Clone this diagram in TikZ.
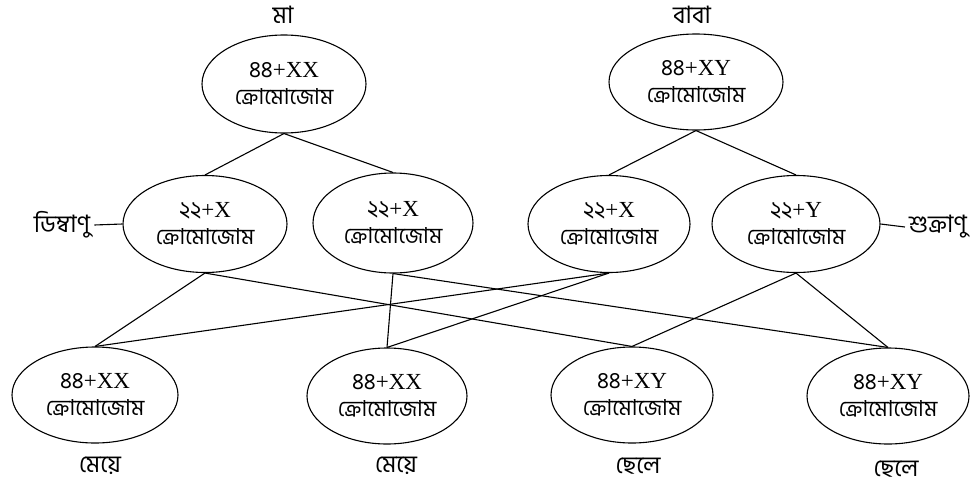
\documentclass[tikz,border=0pt]{standalone}
\usepackage{fontspec}
\setmainfont{Liberation Serif}
\newfontfamily\bn[Script=Bengali]{Hind Siliguri}
\usetikzlibrary{shapes.geometric}
\tikzset{
  cell/.style={draw, ellipse, line width=1.1pt, inner sep=0pt, align=center, font=\fontsize{23}{26}\selectfont},
  conn/.style={line width=1.1pt},
  lbl/.style={font=\bn\fontsize{24}{26}\selectfont, inner sep=4pt},
}
\newcommand{\chromo}{{\bn\fontsize{22}{24}\selectfont ক্রোমোজোম}}
\newcommand{\cellrows}[1]{\raisebox{-3pt}{#1}\\[1pt]\raisebox{-3pt}{\chromo}}
\begin{document}
\begin{tikzpicture}[x=1pt,y=-1pt]
\useasboundingbox (0,0) rectangle (976,487);
% parents
\node[cell, minimum width=164pt, minimum height=98pt] (ma) at (284,84) {\cellrows{{\bn ৪৪}+XX}};
\node[cell, minimum width=174pt, minimum height=96pt] (baba) at (696,82) {\cellrows{{\bn ৪৪}+XY}};
\node[lbl] (malbl) at (283,15) {মা};
\node[lbl] (babalbl) at (692,15) {বাবা};
% gametes
\node[cell, minimum width=164pt, minimum height=97pt] (L1) at (205,224) {\cellrows{{\bn ২২}+X}};
\node[cell, minimum width=160pt, minimum height=100pt] (L2) at (393,223) {\cellrows{{\bn ২২}+X}};
\node[cell, minimum width=162pt, minimum height=97pt] (R1) at (609,224) {\cellrows{{\bn ২২}+X}};
\node[cell, minimum width=168pt, minimum height=97pt] (R2) at (796,224) {\cellrows{{\bn ২২}+Y}};
\node[lbl] (egg) at (62,225) {ডিম্বাণু};
\node[lbl] (sperm) at (938,227) {শুক্রাণু};
% children
\node[cell, minimum width=166pt, minimum height=96pt] (B1) at (95,395) {\cellrows{{\bn ৪৪}+XX}};
\node[cell, minimum width=160pt, minimum height=96pt] (B2) at (387,396) {\cellrows{{\bn ৪৪}+XX}};
\node[cell, minimum width=162pt, minimum height=96pt] (B3) at (632,395) {\cellrows{{\bn ৪৪}+XY}};
\node[cell, minimum width=162pt, minimum height=96pt] (B4) at (888,396) {\cellrows{{\bn ৪৪}+XY}};
\node[lbl] (c1) at (100,466) {মেয়ে};
\node[lbl] (c2) at (396,466) {মেয়ে};
\node[lbl] (c3) at (638,466) {ছেলে};
\node[lbl] (c4) at (896,469) {ছেলে};
% connectors
\draw[conn] (ma.south) -- (L1.north);
\draw[conn] (ma.south) -- (L2.north);
\draw[conn] (baba.south) -- (R1.north);
\draw[conn] (baba.south) -- (R2.north);
\draw[conn] (L1.south) -- (B1.north);
\draw[conn] (L1.south) -- (B3.north);
\draw[conn] (R1.south) -- (B1.north);
\draw[conn] (R1.south) -- (B2.north);
\draw[conn] (L2.south) -- (B2.north);
\draw[conn] (L2.south) -- (B4.north);
\draw[conn] (R2.south) -- (B3.north);
\draw[conn] (R2.south) -- (B4.north);
\draw[conn] (egg.east) -- (L1.west);
\draw[conn] (R2.east) -- (sperm.west);
\end{tikzpicture}
\end{document}
